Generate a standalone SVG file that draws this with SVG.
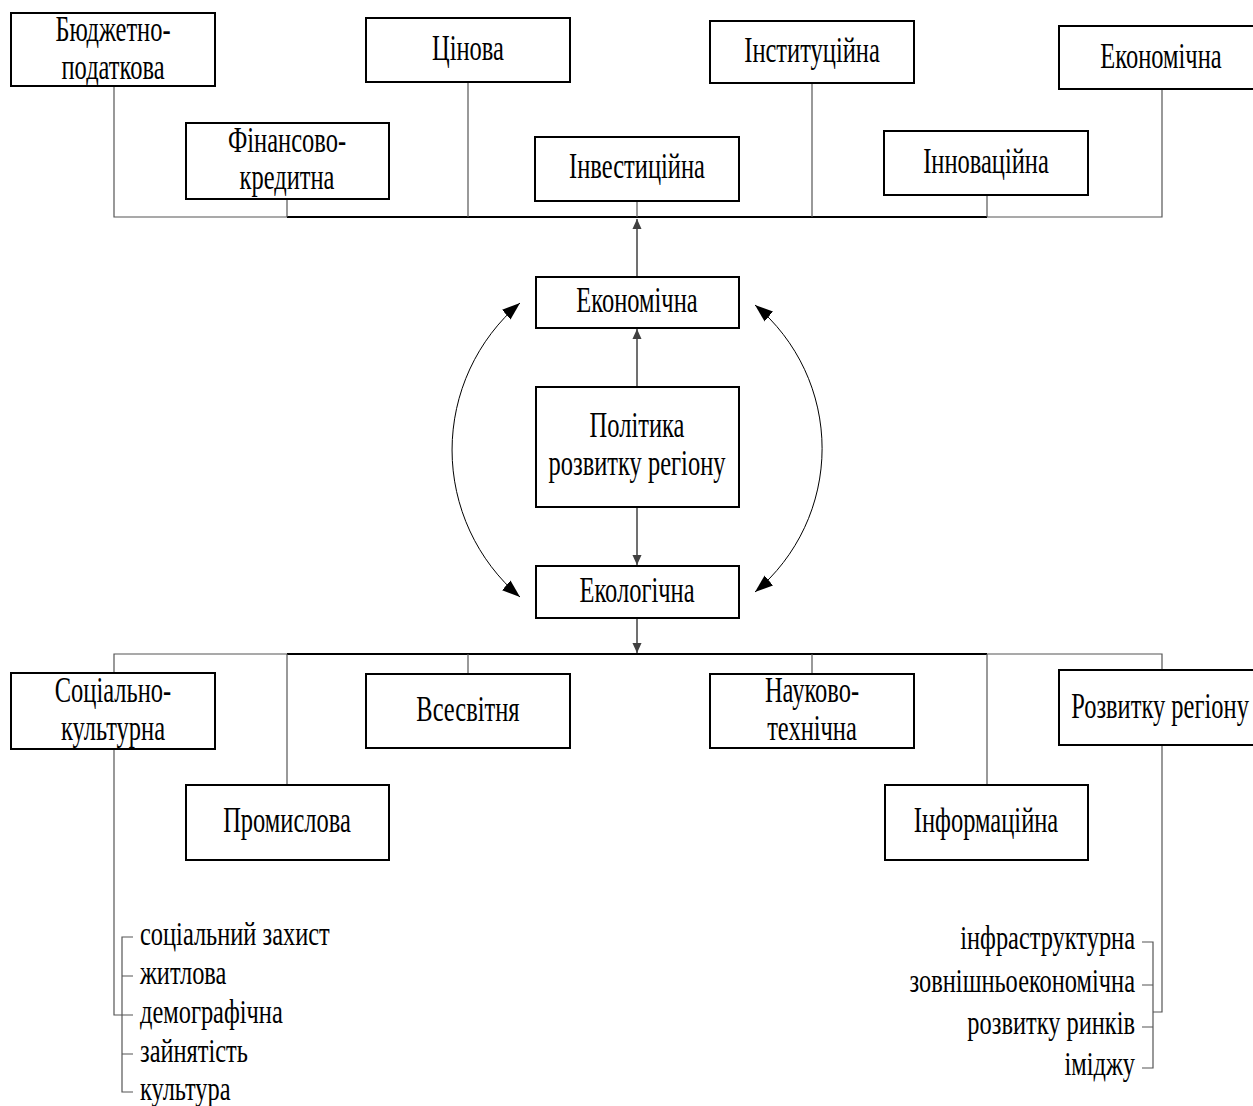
<svg xmlns="http://www.w3.org/2000/svg" width="1253" height="1106" viewBox="0 0 1253 1106">
<style>
.box{fill:#fff;stroke:#000;stroke-width:2}
.t{font-family:"Liberation Serif","Times New Roman",serif;font-size:35px;fill:#000;text-anchor:middle}
.l{font-family:"Liberation Serif","Times New Roman",serif;font-size:33px;fill:#000}
.c{fill:none;stroke:#555;stroke-width:1.2}
.cb{fill:none;stroke:#000;stroke-width:2}
.a{fill:none;stroke:#404040;stroke-width:1.5;marker-end:url(#ah)}
.arc{fill:none;stroke:#000;stroke-width:1;marker-start:url(#big);marker-end:url(#big)}
</style>
<defs>
<marker id="ah" markerUnits="userSpaceOnUse" markerWidth="10" markerHeight="12" refX="11" refY="5" orient="auto" viewBox="0 0 11 10">
<path d="M0,0 L11,5 L0,10 Z" fill="#404040"/>
</marker>
<marker id="big" markerUnits="userSpaceOnUse" markerWidth="18" markerHeight="14" refX="18" refY="6.5" orient="auto-start-reverse" viewBox="0 0 18 13">
<path d="M0,0 L18,6.5 L0,13 Z" fill="#000"/>
</marker>
</defs>
<rect width="1253" height="1106" fill="#fff"/>
<g id="connectors">
<path class="c" d="M114,86 V217 H287"/>
<path class="c" d="M987,217 H1162 V89"/>
<path class="cb" d="M287,217 H987"/>
<path class="c" d="M287,199 V217"/>
<path class="c" d="M468,82 V217"/>
<path class="c" d="M637,201 V217"/>
<path class="c" d="M812,83 V217"/>
<path class="c" d="M987,195 V217"/>
<path class="a" d="M637,277 V219"/>
<path class="a" d="M637,387 V329"/>
<path class="a" d="M637,507 V565"/>
<path class="a" d="M637,618 V653"/>
<path class="arc" d="M520,303 A193,193 0 0 0 520,597"/>
<path class="arc" d="M755,305 A187,187 0 0 1 755,592"/>
<path class="c" d="M114,673 V654 H287"/>
<path class="cb" d="M287,654 H987"/>
<path class="c" d="M987,654 H1162 V670"/>
<path class="c" d="M287,654 V785"/>
<path class="c" d="M468,654 V674"/>
<path class="c" d="M812,654 V674"/>
<path class="c" d="M987,654 V785"/>
<path class="c" d="M114,749 V1015 H122"/>
<path class="c" d="M133,937 H122 V1092 H133"/>
<path class="c" d="M122,976 H133 M122,1015 H133 M122,1054 H133"/>
<path class="c" d="M1162,745 V1012 H1153"/>
<path class="c" d="M1142,942 H1153 V1068 H1142"/>
<path class="c" d="M1142,985 H1153 M1142,1027 H1153"/>
</g>
<g id="n-budget">
<rect class="box" x="11" y="13" width="204" height="73"/>
<text class="t" transform="translate(113,41) scale(0.7,1)">Бюджетно-</text>
<text class="t" transform="translate(113,79) scale(0.7,1)">податкова</text>
</g>
<g id="n-finance">
<rect class="box" x="186" y="123" width="203" height="76"/>
<text class="t" transform="translate(287,152) scale(0.7,1)">Фінансово-</text>
<text class="t" transform="translate(287,189) scale(0.7,1)">кредитна</text>
</g>
<g id="n-price">
<rect class="box" x="366" y="18" width="204" height="64"/>
<text class="t" transform="translate(468,60) scale(0.7,1)">Цінова</text>
</g>
<g id="n-invest">
<rect class="box" x="535" y="137" width="204" height="64"/>
<text class="t" transform="translate(637,178) scale(0.7,1)">Інвестиційна</text>
</g>
<g id="n-inst">
<rect class="box" x="710" y="21" width="204" height="62"/>
<text class="t" transform="translate(812,62) scale(0.7,1)">Інституційна</text>
</g>
<g id="n-innov">
<rect class="box" x="884" y="131" width="204" height="64"/>
<text class="t" transform="translate(986,173) scale(0.7,1)">Інноваційна</text>
</g>
<g id="n-econ-top">
<rect class="box" x="1059" y="26" width="204" height="63"/>
<text class="t" transform="translate(1161,68) scale(0.7,1)">Економічна</text>
</g>
<g id="n-econ">
<rect class="box" x="536" y="277" width="203" height="51"/>
<text class="t" transform="translate(637,312) scale(0.7,1)">Економічна</text>
</g>
<g id="n-policy">
<rect class="box" x="536" y="387" width="203" height="120"/>
<text class="t" transform="translate(637,437) scale(0.7,1)">Політика</text>
<text class="t" transform="translate(637,475) scale(0.7,1)">розвитку регіону</text>
</g>
<g id="n-ecol">
<rect class="box" x="536" y="566" width="203" height="52"/>
<text class="t" transform="translate(637,602) scale(0.7,1)">Екологічна</text>
</g>
<g id="n-social">
<rect class="box" x="11" y="673" width="204" height="76"/>
<text class="t" transform="translate(113,702) scale(0.7,1)">Соціально-</text>
<text class="t" transform="translate(113,740) scale(0.7,1)">культурна</text>
</g>
<g id="n-industry">
<rect class="box" x="186" y="785" width="203" height="75"/>
<text class="t" transform="translate(287,832) scale(0.7,1)">Промислова</text>
</g>
<g id="n-world">
<rect class="box" x="366" y="674" width="204" height="74"/>
<text class="t" transform="translate(468,721) scale(0.7,1)">Всесвітня</text>
</g>
<g id="n-science">
<rect class="box" x="710" y="674" width="204" height="74"/>
<text class="t" transform="translate(812,702) scale(0.7,1)">Науково-</text>
<text class="t" transform="translate(812,740) scale(0.7,1)">технічна</text>
</g>
<g id="n-info">
<rect class="box" x="885" y="785" width="203" height="75"/>
<text class="t" transform="translate(986,832) scale(0.7,1)">Інформаційна</text>
</g>
<g id="n-region">
<rect class="box" x="1059" y="670" width="204" height="75"/>
<text class="t" transform="translate(1160,718) scale(0.7,1)">Розвитку регіону</text>
</g>
<g id="list-social">
<text class="l" transform="translate(140,945) scale(0.74,1)">соціальний захист</text>
<text class="l" transform="translate(140,984) scale(0.74,1)">житлова</text>
<text class="l" transform="translate(140,1023) scale(0.74,1)">демографічна</text>
<text class="l" transform="translate(140,1062) scale(0.74,1)">зайнятість</text>
<text class="l" transform="translate(140,1100) scale(0.74,1)">культура</text>
</g>
<g id="list-region">
<text class="l" text-anchor="end" transform="translate(1135,949) scale(0.74,1)">інфраструктурна</text>
<text class="l" text-anchor="end" transform="translate(1135,992) scale(0.74,1)">зовнішньоекономічна</text>
<text class="l" text-anchor="end" transform="translate(1135,1034) scale(0.74,1)">розвитку ринків</text>
<text class="l" text-anchor="end" transform="translate(1135,1075) scale(0.74,1)">іміджу</text>
</g>
</svg>
